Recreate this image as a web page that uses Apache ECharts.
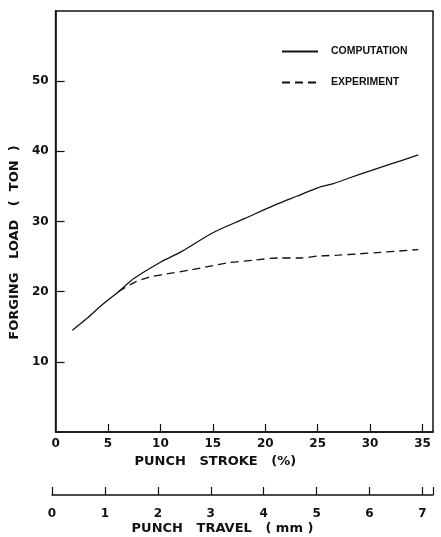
<!DOCTYPE html>
<html>
<head>
<meta charset="utf-8">
<script src="https://cdn.jsdelivr.net/npm/echarts@6/dist/echarts.min.js"></script>
<style>
	html, body { margin: 0; padding: 0; background: #fff; }
	#forgingCharts { width: 441px; height: 537px; }
</style>
</head>
<body>
<div id="forgingCharts"></div>
<script>
// data: [punch stroke %, load ton]
var computation = [[1.6, 14.5], [3, 16.2], [4.5, 18.2], [6, 20.0], [7.5, 21.9], [10, 24.2], [12, 25.7],
	[15, 28.4], [18, 30.4], [21, 32.4], [23, 33.6], [25, 34.8], [26.5, 35.4], [28, 36.2], [30, 37.2],
	[32, 38.2], [34.6, 39.5]];
var experiment = [[6, 20.0], [7.5, 21.3], [9, 22.1], [10.5, 22.5], [12.9, 23.1], [16.4, 24.1], [19, 24.5],
	[21.2, 24.8], [23.3, 24.8], [25.2, 25.1], [27, 25.2], [29, 25.4], [31, 25.6], [34.6, 26.0]];
var loadTicks = [10, 20, 30, 40, 50];
var strokeTicks = [5, 10, 15, 20, 25, 30, 35];
var strokeLabels = [0, 5, 10, 15, 20, 25, 30, 35];
var travelTicks = [0, 1, 2, 3, 4, 5, 6, 7, 7.2];
var travelLabels = [0, 1, 2, 3, 4, 5, 6, 7];

var ink = '#111';
var labelFont = {
	color: ink,
	fontFamily: 'DejaVu Sans',
	fontWeight: 'bold',
	fontSize: 12
};
var nameFont = {
	color: ink,
	fontFamily: 'DejaVu Sans',
	fontWeight: 'bold',
	fontSize: 13
};

function initForgingCharts(){
	var forging = echarts.init(document.getElementById('forgingCharts'));
	var option = {
		animation: false,
		backgroundColor: '#fff',
		grid: [
			{ left: 52, right: 8, top: 11, bottom: 105, show: true, borderColor: ink, borderWidth: 1.5 },
			{ left: 52, right: 8, top: 494, height: 1 }
		],
		legend: {
			orient: 'vertical',
			left: 276,
			top: 41,
			itemWidth: 36,
			itemHeight: 10,
			itemGap: 20,
			selectedMode: false,
			itemStyle: { opacity: 0 },
			textStyle: {
				color: ink,
				fontFamily: 'Liberation Sans',
				fontWeight: 'bold',
				fontSize: 10.5,
				padding: [0, 0, 0, 8]
			},
			data: ['COMPUTATION', 'EXPERIMENT']
		},
		xAxis: [
			{
				gridIndex: 0,
				type: 'value',
				min: 0,
				max: 36,
				splitLine: { show: false },
				axisLine: { lineStyle: { color: ink, width: 1.5 } },
				axisTick: { inside: true, length: 8, customValues: strokeTicks, lineStyle: { color: ink, width: 1.2 } },
				axisLabel: Object.assign({ margin: 6, customValues: strokeLabels }, labelFont),
				name: 'PUNCH   STROKE   (%)',
				nameLocation: 'middle',
				nameGap: 23,
				nameTextStyle: Object.assign({ padding: [0, 58, 0, 0] }, nameFont)
			},
			{
				gridIndex: 1,
				type: 'value',
				min: 0,
				max: 36 / 5,
				splitLine: { show: false },
				axisLine: { lineStyle: { color: ink, width: 1.5 } },
				axisTick: { inside: true, length: 8, customValues: travelTicks, lineStyle: { color: ink, width: 1.2 } },
				axisLabel: Object.assign({ margin: 13, customValues: travelLabels }, labelFont),
				name: 'PUNCH   TRAVEL   ( mm )',
				nameLocation: 'middle',
				nameGap: 27,
				nameTextStyle: Object.assign({ padding: [0, 40, 0, 0] }, nameFont)
			}
		],
		yAxis: [
			{
				gridIndex: 0,
				type: 'value',
				min: 0,
				max: 60,
				splitLine: { show: false },
				axisLine: { lineStyle: { color: ink, width: 1.5 } },
				axisTick: { inside: true, length: 9, customValues: loadTicks, lineStyle: { color: ink, width: 1.2 } },
				axisLabel: Object.assign({ margin: 7, customValues: loadTicks }, labelFont),
				name: 'FORGING   LOAD   (  TON  )',
				nameLocation: 'middle',
				nameGap: 24,
				nameTextStyle: Object.assign({ padding: [0, 42, 0, 0] }, nameFont)
			},
			{
				gridIndex: 1,
				type: 'value',
				show: false
			}
		],
		series: [
			{
				name: 'COMPUTATION',
				type: 'line',
				xAxisIndex: 0,
				yAxisIndex: 0,
				smooth: 0.3,
				symbol: 'none',
				lineStyle: { color: ink, width: 1.3 },
				itemStyle: { color: ink },
				data: computation
			},
			{
				name: 'EXPERIMENT',
				type: 'line',
				xAxisIndex: 0,
				yAxisIndex: 0,
				smooth: 0.3,
				symbol: 'none',
				lineStyle: { color: ink, width: 1.3, type: [8, 5] },
				itemStyle: { color: ink },
				data: experiment
			}
		]
	};
	forging.setOption(option);
}
initForgingCharts();
</script>
</body>
</html>
